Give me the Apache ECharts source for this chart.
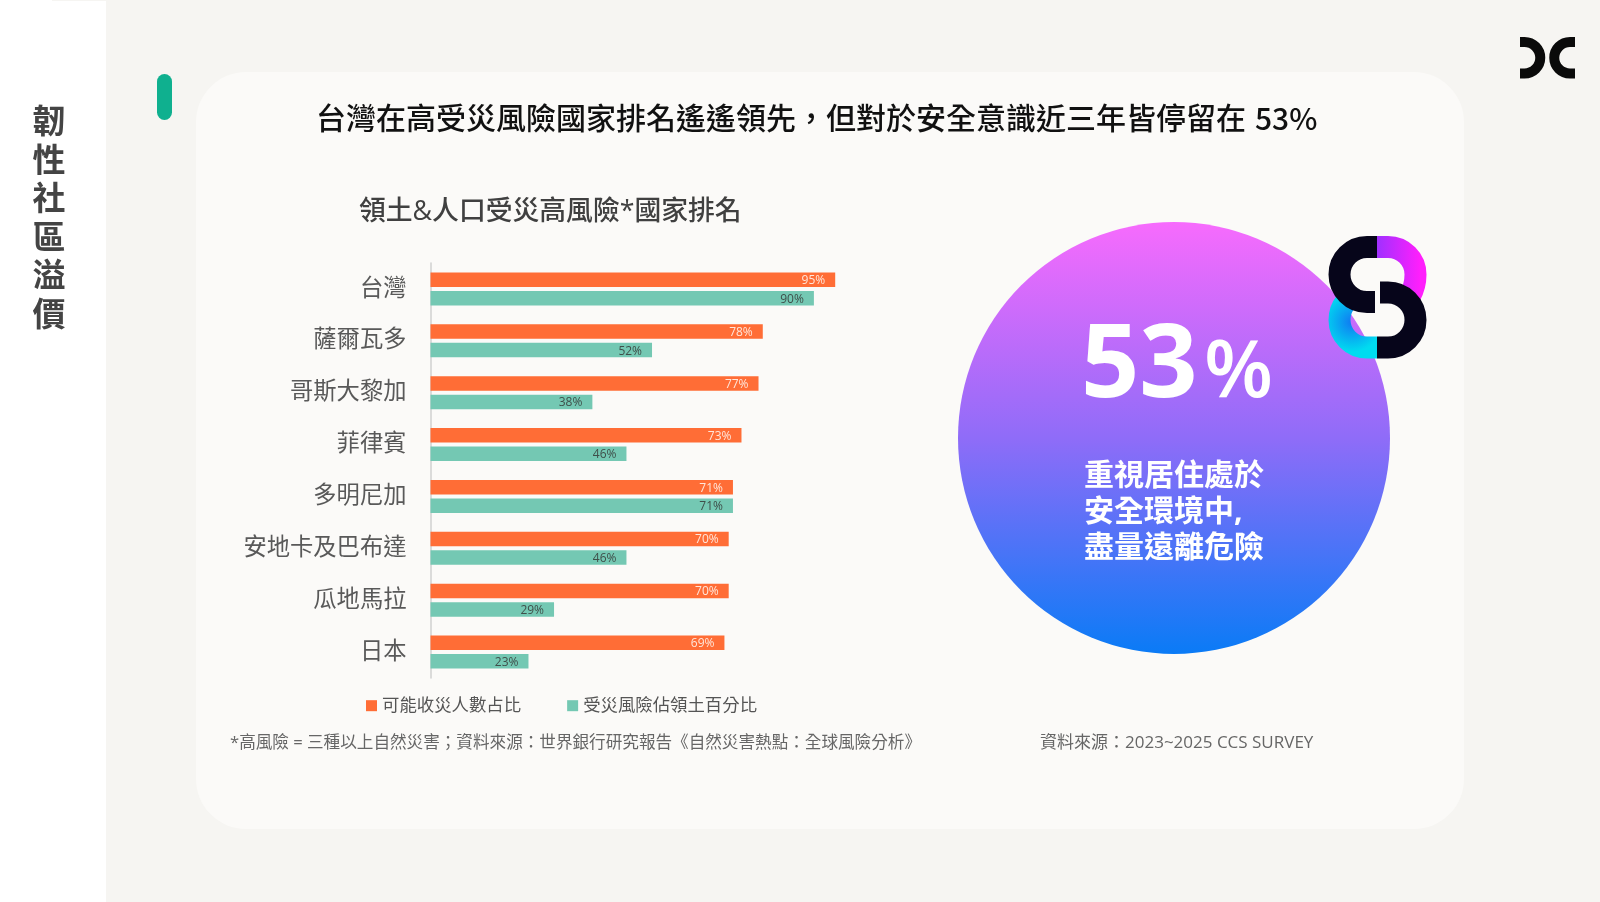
<!DOCTYPE html>
<html>
<head>
<meta charset="utf-8">
<title>韌性社區溢價</title>
<script src="https://cdn.jsdelivr.net/npm/echarts@6/dist/echarts.min.js"></script>
<style>
html, body { margin: 0; padding: 0; background: #f6f5f2; }
#main { width: 1600px; height: 902px; }
</style>
</head>
<body>
<div id="main"></div>
<script>
var countries = ['台灣', '薩爾瓦多', '哥斯大黎加', '菲律賓', '多明尼加', '安地卡及巴布達', '瓜地馬拉', '日本'];
var peopleShare = [95, 78, 77, 73, 71, 70, 70, 69];
var landShare = [90, 52, 38, 46, 71, 46, 29, 23];
var seriesNames = ['可能收災人數占比', '受災風險佔領土百分比'];

var FONT = '"Open Sans", "Noto Sans CJK TC", sans-serif';
var CJK = '"Noto Sans CJK TC", sans-serif';

var myChart = echarts.init(document.getElementById('main'));

function text(x, y, str, size, color, weight, extra) {
    var style = { text: str, x: x, y: y, fontSize: size, fontFamily: FONT, fill: color, fontWeight: weight || 400, verticalAlign: 'middle' };
    for (var k in extra) style[k] = extra[k];
    return { type: 'text', style: style };
}
// the graphic component has no plain path type, so each logo stroke gets its own shape
var shapeCount = 0;
function stroke(path, color, width) {
    var name = 'logoStroke' + (shapeCount++);
    echarts.graphic.registerShape(name, echarts.graphic.extendPath(path));
    return { type: name, style: { fill: null, stroke: color, lineWidth: width, lineCap: 'butt' } };
}

var elements = [
    // page background
    { type: 'rect', shape: { x: 0, y: 0, width: 106, height: 902 }, style: { fill: '#ffffff' } },
    { type: 'rect', shape: { x: 52, y: 0, width: 54, height: 1 }, style: { fill: '#f6f5f2' } },
    { type: 'rect', shape: { x: 196, y: 72, width: 1268, height: 757, r: 50 }, style: { fill: '#fbfaf8' } },
    { type: 'rect', shape: { x: 157, y: 74, width: 15, height: 46, r: 7.5 }, style: { fill: '#0fb08f' } },
    text(49, 220, '韌\n性\n社\n區\n溢\n價', 33, '#444444', 700, { align: 'center', lineHeight: 38.6 }),
    text(316, 120, '台灣在高受災風險國家排名遙遙領先，但對於安全意識近三年皆停留在 ', 30, '#111111', 500),
    text(1255, 118.5, '53%', 30, '#111111', 500, { fontFamily: CJK }),
    text(359, 212, '領土&人口受災高風險*國家排名', 26.8, '#404040', 500),
    text(230, 743, '*高風險 = 三種以上自然災害；資料來源：世界銀行研究報告《自然災害熱點：全球風險分析》', 16.6, '#666666', 400),
    text(1040, 743, '資料來源：2023~2025 CCS SURVEY', 17, '#666666', 400),
    // big circle
    {
        type: 'circle', shape: { cx: 1174, cy: 438, r: 216 },
        style: {
            fill: new echarts.graphic.LinearGradient(0, 0, 0, 1, [
                { offset: 0, color: '#f76bfd' },
                { offset: 0.5, color: '#8f6cf8' },
                { offset: 1, color: '#0a7bf6' }
            ])
        }
    },
    text(1081, 368, '53', 102, '#ffffff', 700),
    text(1204, 374, '%', 80, '#ffffff', 600),
    text(1084, 512, '重視居住處於\n安全環境中,\n盡量遠離危險', 30, '#ffffff', 700, { lineHeight: 36 }),
    // S logo
    stroke('M1345 303 Q1339.5 310 1339.5 320 A27.5 27.5 0 0 0 1367 347.5 H1377',
        new echarts.graphic.RadialGradient(1352, 322, 30, [
            { offset: 0, color: '#1079f2' },
            { offset: 1, color: '#00dcf0' }
        ], true), 22),
    stroke('M1377 247 H1388 A27.5 27.5 0 0 1 1415.5 274.5 Q1415.5 286 1410 296',
        new echarts.graphic.LinearGradient(1377, 0, 1420, 0, [
            { offset: 0, color: '#a030ff' },
            { offset: 1, color: '#ff1ffc' }
        ], true), 22),
    stroke('M1377 247 H1367 A27.5 27.5 0 0 0 1367 302 H1375', '#06051a', 22),
    stroke('M1380 292.5 H1388 A27.5 27.5 0 0 1 1388 347.5 H1377', '#06051a', 22),
    // DC logo
    stroke('M1520 42 H1524.5 A15.75 15.75 0 0 1 1524.5 73.5 H1520', '#0a0a0a', 10),
    stroke('M1575 42 H1570 A15.75 15.75 0 0 0 1570 73.5 H1575', '#0a0a0a', 10)
];

function barLabel(color) {
    return {
        show: true, position: 'insideRight', distance: 10, offset: [0, 1], fontSize: 12,
        fontFamily: FONT, color: color, formatter: '{c}%'
    };
}

myChart.setOption({
    animation: false,
    backgroundColor: '#f6f5f2',
    textStyle: { fontFamily: FONT },
    graphic: { elements: elements },
    grid: { left: 430.5, top: 263, width: 426, height: 415, containLabel: false },
    legend: {
        left: 366, top: 697, padding: 0, itemWidth: 11, itemHeight: 11, itemGap: 46, icon: 'rect',
        textStyle: { fontSize: 17.4, color: '#555555', fontFamily: FONT },
        data: seriesNames
    },
    xAxis: { type: 'value', min: 0, max: 100, show: false },
    yAxis: {
        type: 'category', inverse: true, data: countries,
        axisLine: { lineStyle: { color: '#d0d0d0', width: 1.5 } },
        axisTick: { show: false },
        axisLabel: { fontSize: 23.3, color: '#595959', margin: 24, fontFamily: FONT }
    },
    series: [
        { name: seriesNames[0], type: 'bar', data: peopleShare, barWidth: 14.5, barGap: '28%', itemStyle: { color: '#ff6d36' }, label: barLabel('#ffe6da') },
        { name: seriesNames[1], type: 'bar', data: landShare, barWidth: 14.5, itemStyle: { color: '#74c8b3' }, label: barLabel('#3f4f4a') }
    ]
});
</script>
</body>
</html>
